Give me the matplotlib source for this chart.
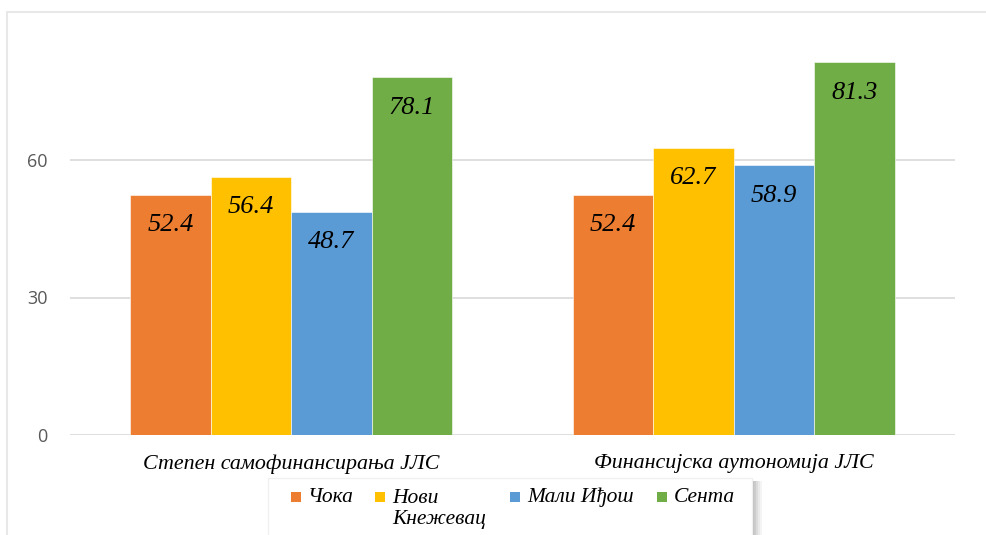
import numpy as np
import matplotlib.pyplot as plt
from matplotlib.patches import Rectangle

categories = ["Степен самофинансирања ЈЛС", "Финансијска аутономија ЈЛС"]
municipalities = ["Чока", "Нови\nКнежевац", "Мали Иђош", "Сента"]
coka = [52.4, 52.4]
novi_knezevac = [56.4, 62.7]
mali_idjos = [48.7, 58.9]
senta = [78.1, 81.3]
yticks = [0, 30, 60]

series = [coka, novi_knezevac, mali_idjos, senta]
colors = ["#ED7D31", "#FFC000", "#5B9BD5", "#70AD47"]

W, H = 987, 535
serif = "Liberation Serif"


def px(x, y):
    # pixel position (from top-left) -> figure fraction
    return x / W, 1 - y / H


fig = plt.figure(figsize=(W / 100, H / 100), dpi=100)

# outer chart frame (open at the right and bottom edges)
fx0, fy0 = px(7, 12)
fig.add_artist(Rectangle((fx0, -0.02), 1 - fx0 + 0.02, fy0 + 0.02,
                         transform=fig.transFigure, facecolor="white",
                         edgecolor="#e8e8e8", lw=1.5, zorder=0))

ax_l, ax_r, ax_b = 70, 955, 435
unit = 137.5 / 30
ymax = 90
ax = fig.add_axes([ax_l / W, 1 - ax_b / H, (ax_r - ax_l) / W, ymax * unit / H])
ax.set_facecolor("none")

x = np.arange(len(categories))
bw = 0.182
offsets = (np.arange(len(series)) - 1.5) * bw
for vals, off, c in zip(series, offsets, colors):
    bars = ax.bar(x + off, vals, bw, color=c, edgecolor="white", lw=0.4, zorder=3)
    for b, v in zip(bars, vals):
        ax.annotate(f"{v:.1f}", (b.get_x() + b.get_width() / 2, v),
                    xytext=(0, -22), textcoords="offset points",
                    ha="center", va="center", fontsize=19, style="italic",
                    family=serif, color="black", zorder=4)

ax.set_xlim(-0.5, 1.5)
ax.set_ylim(0, ymax)
ax.set_yticks(yticks)
ax.set_yticklabels([str(t) for t in yticks], family="Open Sans", fontsize=13,
                   color="#595959")
ax.yaxis.grid(True, color="#d9d9d9", lw=1.2, zorder=0)
ax.set_axisbelow(True)
ax.tick_params(axis="y", length=0, pad=16)
ax.set_xticks(x)
ax.set_xticklabels(categories, family=serif, style="italic", fontsize=15.8,
                   color="black")
ax.tick_params(axis="x", length=0, pad=14)
for s in ["top", "right", "left", "bottom"]:
    ax.spines[s].set_visible(False)

# legend box with shadow on the right
lx0, lx1, ly0 = 268, 752, 478
for i, a in enumerate([0.5, 0.38, 0.26, 0.16, 0.08]):
    sx, sy = px(lx1 + i * 2, ly0 + 3)
    fig.add_artist(Rectangle((sx, 0), 2 / W, sy, transform=fig.transFigure,
                             facecolor="#777777", edgecolor="none", alpha=a,
                             zorder=5))
bx, by = px(lx0, ly0)
fig.add_artist(Rectangle((bx, -0.02), (lx1 - lx0) / W, by + 0.02,
                         transform=fig.transFigure, facecolor="white",
                         edgecolor="#f0f0f0", lw=1, zorder=6))

marker_x = [291, 375, 510, 657]
for mx, name, c in zip(marker_x, municipalities, colors):
    mfx, mfy = px(mx, 502)
    fig.add_artist(Rectangle((mfx, mfy), 10 / W, 10 / H, transform=fig.transFigure,
                             facecolor=c, edgecolor="none", zorder=7))
    if "\n" in name:
        tx, ty = px(mx + 17, 489)
        va = "top"
    else:
        tx, ty = px(mx + 17, 497)
        va = "center"
    fig.text(tx, ty, name, ha="left", va=va, family=serif, style="italic",
             fontsize=15.5, color="black", linespacing=1.12, zorder=8)

fig.savefig("out.png", dpi=100)
